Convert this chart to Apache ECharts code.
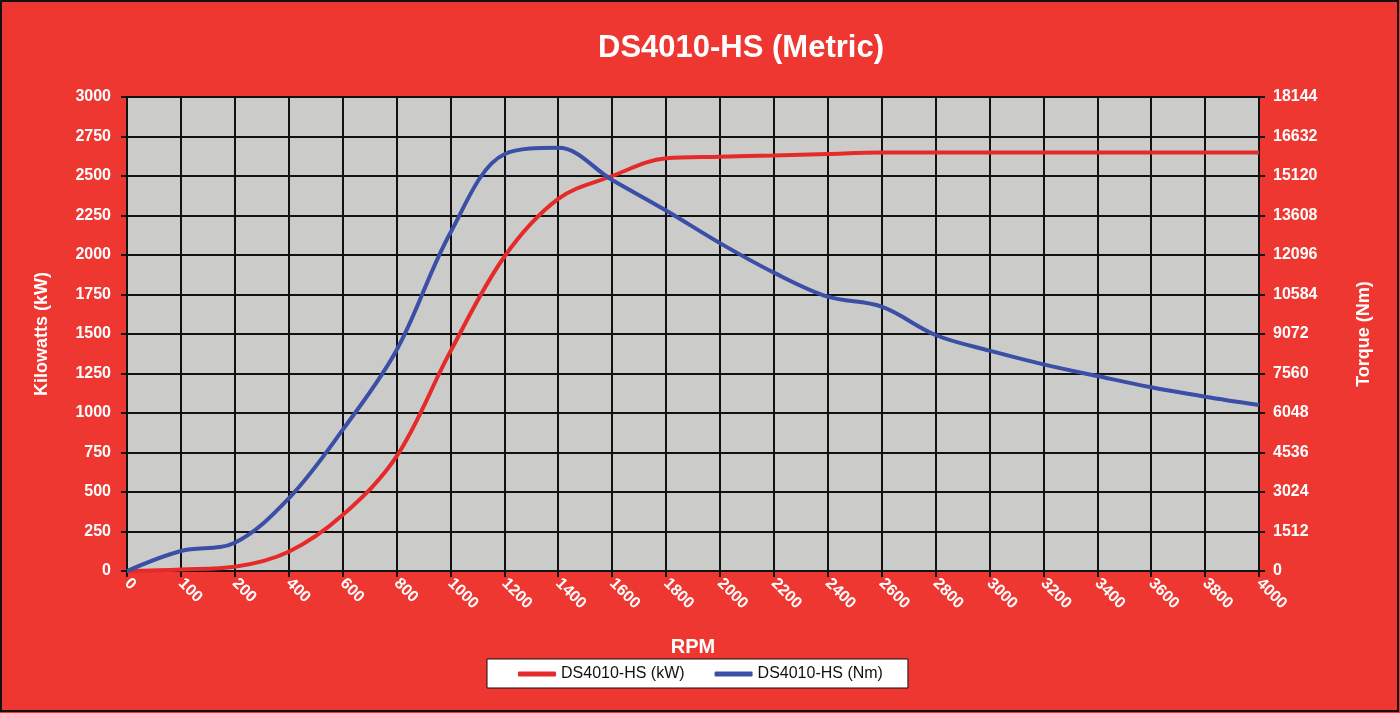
<!DOCTYPE html>
<html>
<head>
<meta charset="utf-8">
<title>DS4010-HS (Metric)</title>
<script src="https://cdn.jsdelivr.net/npm/echarts@6/dist/echarts.min.js"></script>
<style>
  html, body { margin: 0; padding: 0; background: #ef3731; }
  #chart { width: 1400px; height: 713px; }
</style>
</head>
<body>
<div id="chart"></div>
<script>
// rpm steps on the x axis
const rpm = ['0', '100', '200', '400', '600', '800', '1000', '1200', '1400', '1600', '1800',
  '2000', '2200', '2400', '2600', '2800', '3000', '3200', '3400', '3600', '3800', '4000'];
// power, kW
const powerKw = [0, 10, 27, 122, 354, 725, 1390, 1989, 2355, 2500, 2612,
  2622, 2630, 2640, 2648, 2648, 2648, 2648, 2648, 2648, 2648, 2648];
// torque, Nm
const torqueNm = [0, 766, 1084, 2780, 5400, 8450, 12950, 15950, 16200, 14967, 13800,
  12550, 11420, 10500, 10117, 9034, 8433, 7911, 7464, 7031, 6673, 6354];

const white = '#ffffff';
const font = 'Liberation Sans, Arial, sans-serif';
const plain = function (v) { return String(v); };

let option = {
  backgroundColor: '#ef3731',
  animation: false,
  title: {
    text: 'DS4010-HS (Metric)',
    left: 736,
    top: 28,
    textAlign: 'center',
    textStyle: { color: white, fontSize: 31, fontWeight: 'bold', fontFamily: font }
  },
  graphic: [{
    type: 'rect',
    shape: { x: 1, y: 1, width: 1397, height: 710 },
    style: { fill: 'none', stroke: '#111', lineWidth: 2 },
    silent: true
  }],
  legend: {
    data: [
      { name: 'DS4010-HS (kW)', icon: 'roundRect' },
      { name: 'DS4010-HS (Nm)', icon: 'roundRect' }
    ],
    left: 487,
    top: 659,
    padding: [7, 25, 6, 31],
    itemGap: 30,
    itemWidth: 38,
    itemHeight: 5,
    backgroundColor: white,
    borderColor: '#111',
    borderWidth: 1,
    textStyle: { color: '#111', fontSize: 16, fontFamily: font }
  },
  grid: {
    left: 127,
    right: 141,
    top: 97,
    bottom: 142,
    show: true,
    backgroundColor: '#cbcbca',
    borderColor: '#111',
    borderWidth: 2
  },
  xAxis: {
    type: 'category',
    data: rpm,
    boundaryGap: false,
    name: 'RPM',
    nameLocation: 'middle',
    nameGap: 66,
    nameTextStyle: { color: white, fontSize: 20, fontWeight: 'bold', fontFamily: font },
    axisLine: { lineStyle: { color: '#111', width: 2 } },
    axisTick: { show: true, length: 6, lineStyle: { color: '#111', width: 2 } },
    axisLabel: {
      interval: 0, rotate: -45, margin: 10,
      color: white, fontSize: 16, fontWeight: 'bold', fontFamily: font
    },
    splitLine: { show: true, lineStyle: { color: '#111', width: 2 } }
  },
  yAxis: [
    {
      type: 'value',
      min: 0, max: 3000, interval: 250,
      name: 'Kilowatts (kW)',
      nameLocation: 'middle',
      nameGap: 76,
      nameRotate: 90,
      nameTextStyle: { color: white, fontSize: 18, fontWeight: 'bold', fontFamily: font },
      axisLine: { show: true, lineStyle: { color: '#111', width: 2 } },
      axisTick: { show: true, length: 6, lineStyle: { color: '#111', width: 2 } },
      axisLabel: { margin: 16, formatter: plain, color: white, fontSize: 16, fontWeight: 'bold', fontFamily: font },
      splitLine: { show: true, lineStyle: { color: '#111', width: 2 } }
    },
    {
      type: 'value',
      min: 0, max: 18144, interval: 1512,
      name: 'Torque (Nm)',
      nameLocation: 'middle',
      nameGap: 96,
      nameRotate: 90,
      nameTextStyle: { color: white, fontSize: 18, fontWeight: 'bold', fontFamily: font },
      axisLine: { show: true, lineStyle: { color: '#111', width: 2 } },
      axisTick: { show: true, length: 6, lineStyle: { color: '#111', width: 2 } },
      axisLabel: { margin: 14, formatter: plain, color: white, fontSize: 16, fontWeight: 'bold', fontFamily: font },
      splitLine: { show: false }
    }
  ],
  series: [
    {
      name: 'DS4010-HS (kW)',
      type: 'line',
      data: powerKw,
      smooth: 0.35,
      symbol: 'none',
      lineStyle: { color: '#e52a2a', width: 4 },
      itemStyle: { color: '#e52a2a' }
    },
    {
      name: 'DS4010-HS (Nm)',
      type: 'line',
      yAxisIndex: 1,
      data: torqueNm,
      smooth: 0.35,
      symbol: 'none',
      lineStyle: { color: '#3a4fa5', width: 4 },
      itemStyle: { color: '#3a4fa5' }
    }
  ]
};

const chart = document.getElementById('chart');
let myChart = echarts.init(chart);
myChart.setOption(option);
</script>
</body>
</html>
